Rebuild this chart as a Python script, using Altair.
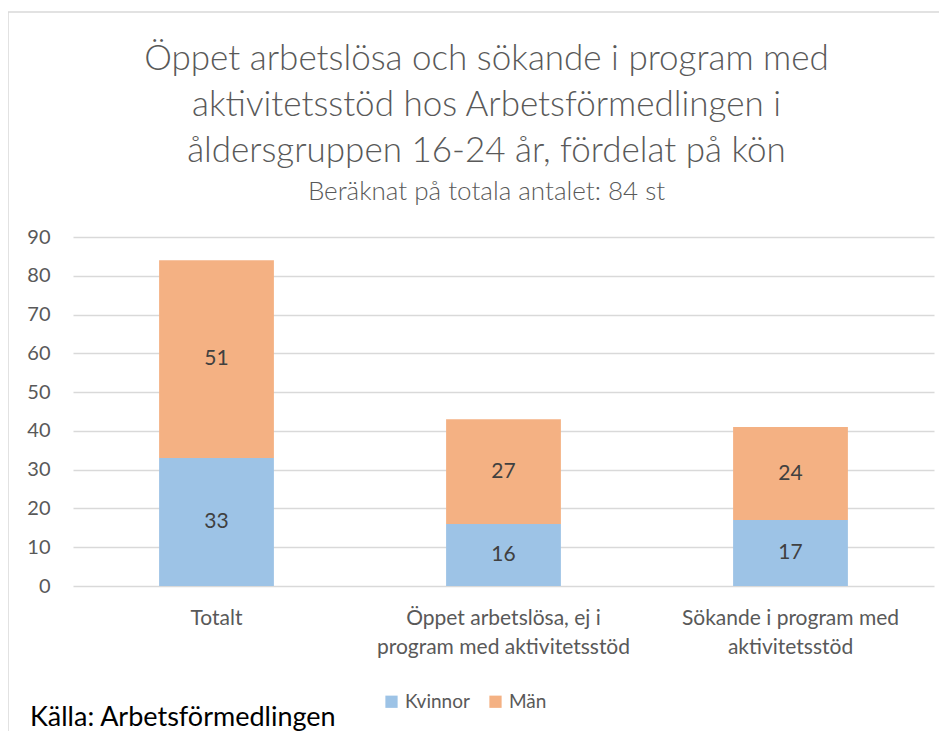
import altair as alt
import pandas as pd

categories = ["Totalt",
              "Öppet arbetslösa, ej i\nprogram med aktivitetsstöd",
              "Sökande i program med\naktivitetsstöd"]
kvinnor = [33, 16, 17]
man = [51, 27, 24]
series = ["Kvinnor", "Män"]
colors = ["#9DC3E6", "#F4B183"]
y_ticks = [0, 10, 20, 30, 40, 50, 60, 70, 80, 90]

rows = []
for c, k, m in zip(categories, kvinnor, man):
    rows.append({"cat": c, "kon": series[0], "value": k, "ord": 0})
    rows.append({"cat": c, "kon": series[1], "value": m, "ord": 1})
df = pd.DataFrame(rows)

FONT = "Lato"
GRAY = "#595959"

base = alt.Chart(df).transform_stack(
    stack="value", groupby=["cat"], as_=["y0", "y1"],
    sort=[alt.SortField("ord", order="ascending")]
).transform_calculate(mid="(datum.y0 + datum.y1) / 2")

yscale = alt.Scale(domain=[0, 90], nice=False)
xscale = alt.Scale(paddingInner=0.6, paddingOuter=0.3)
xaxis = alt.Axis(labelAngle=0, labelExpr="split(datum.label, '\\n')",
                 labelFontSize=21, labelColor=GRAY, labelFont=FONT,
                 labelPadding=21, labelLineHeight=29, labelLimit=400,
                 domain=False, ticks=False, grid=False)
yaxis = alt.Axis(values=y_ticks, labelFontSize=20, labelColor=GRAY,
                 labelFont=FONT, labelPadding=23, domain=False,
                 labelOverlap=False,
                 ticks=False, gridColor="#D9D9D9", gridWidth=1.5)

bars = base.mark_bar().encode(
    x=alt.X("cat:N", sort=categories, title=None, scale=xscale, axis=xaxis),
    y=alt.Y("y0:Q", title=None, scale=yscale, axis=yaxis),
    y2="y1:Q",
    color=alt.Color("kon:N", sort=series,
                    scale=alt.Scale(domain=series, range=colors),
                    legend=alt.Legend(title=None, orient="none",
                                      legendX=309, legendY=455,
                                      direction="horizontal",
                                      symbolType="square", symbolSize=150,
                                      symbolStrokeWidth=0,
                                      labelFontSize=19, labelColor=GRAY,
                                      labelFont=FONT, columnPadding=16)),
)

labels = base.mark_text(fontSize=21, color="#404040", font=FONT).encode(
    x=alt.X("cat:N", sort=categories, title=None, scale=xscale, axis=xaxis),
    y=alt.Y("mid:Q", title=None, scale=yscale, axis=yaxis),
    text=alt.Text("value:Q"),
)

source = alt.Chart(pd.DataFrame({"t": ["Källa: Arbetsförmedlingen"]})).mark_text(
    align="left", baseline="middle", fontSize=27, font=FONT, color="#000000"
).encode(x=alt.value(-43), y=alt.value(481), text="t:N")

frame = alt.Chart(pd.DataFrame({"a": [0]})).mark_rule(color="#D9D9D9", strokeWidth=1.5).encode(
    x=alt.value(-65), x2=alt.value(-65), y=alt.value(-225), y2=alt.value(500))
frame_top = alt.Chart(pd.DataFrame({"a": [0]})).mark_rule(color="#D9D9D9", strokeWidth=1.5).encode(
    x=alt.value(-65), x2=alt.value(880), y=alt.value(-225), y2=alt.value(-225))

chart = alt.layer(frame, frame_top, bars, labels, source).properties(
    width=861, height=349,
    title=alt.Title(
        text=["Öppet arbetslösa och sökande i program med",
              "aktivitetsstöd hos Arbetsförmedlingen i",
              "åldersgruppen 16-24 år, fördelat på kön"],
        subtitle="Beräknat på totala antalet: 84 st",
        fontSize=35, font=FONT, fontWeight=300, color=GRAY,
        lineHeight=46, subtitleFontSize=26, subtitleFont=FONT,
        subtitleFontWeight=300,
        subtitleColor=GRAY, subtitlePadding=10, anchor="middle", dx=-17,
        frame="group", offset=-194),
    autosize=alt.AutoSizeParams(type="none"),
    padding={"left": 65, "top": 229, "right": 5, "bottom": 150},
).configure_view(strokeWidth=0, stroke="transparent")

chart.save("out.html", embed_options={"renderer": "svg", "actions": False})
